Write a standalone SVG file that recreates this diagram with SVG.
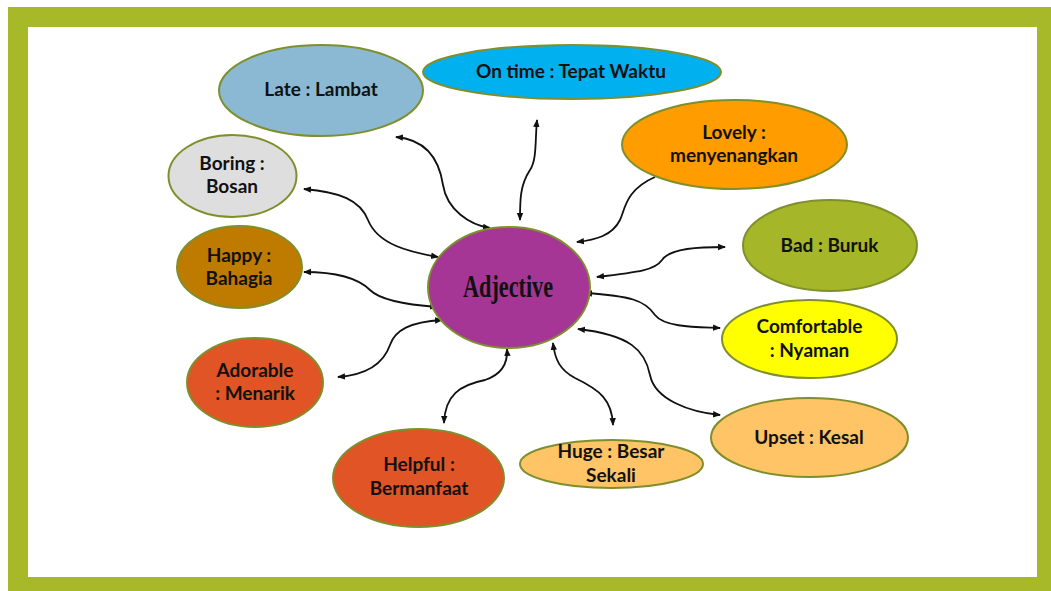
<svg xmlns="http://www.w3.org/2000/svg" width="1051" height="591" viewBox="0 0 1051 591">
<defs>
<marker id="ah" viewBox="0 0 8 8" refX="7" refY="4" markerWidth="8" markerHeight="8" markerUnits="userSpaceOnUse" orient="auto-start-reverse">
<path d="M0,0.8 L8,4 L0,7.2 z" fill="#111"/>
</marker>
<style>
.n{stroke:#7E8F2B;stroke-width:2}
.t{font-family:Lato,"Open Sans","Liberation Sans",sans-serif;font-weight:bold;font-size:19px;fill:#111;text-anchor:middle}
.c{fill:none;stroke:#111;stroke-width:1.8}
.b{marker-start:url(#ah);marker-end:url(#ah)}
.e{marker-end:url(#ah)}
</style>
</defs>
<rect x="0" y="0" width="1051" height="591" fill="#fff"/>
<rect x="8" y="7" width="1043" height="584" fill="#A7B828"/>
<rect x="28" y="27" width="1009" height="550" fill="#fff"/>
<g id="connectors">
<path class="c b" d="M396,137 C430,140 440,165 443,185 C447,210 470,225 490,228"/>
<path class="c b" d="M537,120 C535,140 537,160 530,170 C520,185 520,200 520,220"/>
<path class="c e" d="M655,177 C625,190 625,210 620,220 C612,236 595,240 577,242"/>
<path class="c b" d="M597,277 C640,272 655,270 662,260 C670,248 700,247 725,247"/>
<path class="c b" d="M585,293 C630,296 645,300 655,315 C665,328 700,327 720,328"/>
<path class="c b" d="M578,329 C630,335 645,350 650,375 C655,400 690,412 720,415"/>
<path class="c b" d="M553,343 C555,360 560,370 575,378 C600,390 612,400 613,425"/>
<path class="c b" d="M507,349 C508,365 500,375 485,380 C460,385 445,395 444,423"/>
<path class="c b" d="M442,320 C410,322 395,330 390,345 C383,365 365,375 338,377"/>
<path class="c b" d="M304,272 C340,272 360,280 370,290 C380,300 410,305 437,307"/>
<path class="c b" d="M304,189 C340,192 360,200 368,220 C378,245 410,252 438,257"/>
</g>
<g id="late"><ellipse class="n" cx="321" cy="90.5" rx="102" ry="45.5" fill="#8BB9D4"/><text class="t" x="321" y="96">Late : Lambat</text></g>
<g id="boring"><ellipse class="n" cx="232.5" cy="176" rx="64" ry="41" fill="#DEDEDE"/><text class="t" x="232" y="170">Boring :</text><text class="t" x="232" y="193">Bosan</text></g>
<g id="ontime"><ellipse class="n" cx="572" cy="72" rx="149" ry="27" fill="#00B0EF"/><text class="t" x="571" y="78">On time : Tepat Waktu</text></g>
<g id="lovely"><ellipse class="n" cx="734.5" cy="144.5" rx="112.5" ry="44.5" fill="#FF9C00"/><text class="t" x="734" y="139">Lovely :</text><text class="t" x="734" y="162">menyenangkan</text></g>
<g id="bad"><ellipse class="n" cx="830" cy="245.5" rx="87" ry="45.5" fill="#A5B728"/><text class="t" x="829.5" y="252">Bad : Buruk</text></g>
<g id="comfortable"><ellipse class="n" cx="809.5" cy="339" rx="87.5" ry="39" fill="#FFFF00"/><text class="t" x="809.5" y="333">Comfortable</text><text class="t" x="809.5" y="357">: Nyaman</text></g>
<g id="upset"><ellipse class="n" cx="809.5" cy="437.5" rx="98.5" ry="39.5" fill="#FFC465"/><text class="t" x="809" y="444">Upset : Kesal</text></g>
<g id="huge"><ellipse class="n" cx="611.5" cy="464" rx="91.5" ry="24" fill="#FFC465"/><text class="t" x="611" y="458">Huge : Besar</text><text class="t" x="611" y="482">Sekali</text></g>
<g id="helpful"><ellipse class="n" cx="418.5" cy="478" rx="85.5" ry="49" fill="#E05426"/><text class="t" x="419" y="471">Helpful :</text><text class="t" x="419" y="495">Bermanfaat</text></g>
<g id="happy"><ellipse class="n" cx="239.5" cy="267" rx="62.5" ry="41" fill="#BF7A00"/><text class="t" x="239" y="262">Happy :</text><text class="t" x="239" y="285">Bahagia</text></g>
<g id="adorable"><ellipse class="n" cx="255" cy="382.5" rx="68" ry="44.5" fill="#E05426"/><text class="t" x="255" y="377">Adorable</text><text class="t" x="255" y="400">: Menarik</text></g>
<g id="adjective"><ellipse class="n" cx="509" cy="287.5" rx="81" ry="60.5" fill="#A63695"/><text x="508" y="297" font-family="'Liberation Serif',serif" font-weight="bold" font-size="32" fill="#111" text-anchor="middle" textLength="90" lengthAdjust="spacingAndGlyphs">Adjective</text></g>
</svg>
